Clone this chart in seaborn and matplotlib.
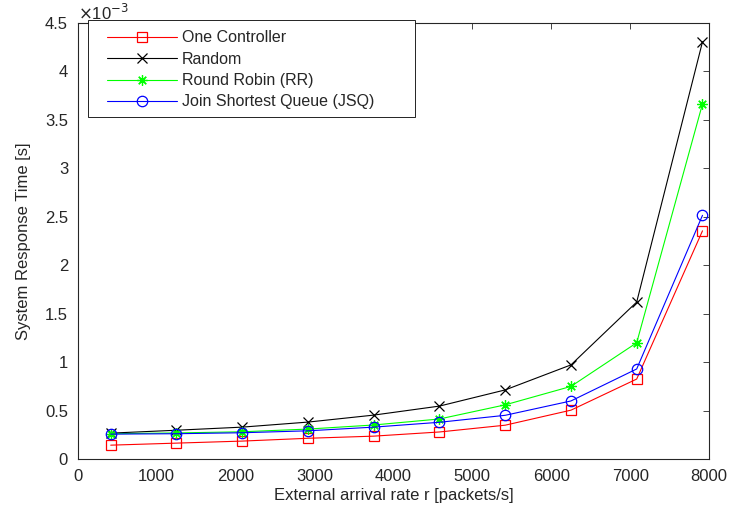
import numpy as np
import pandas as pd
import matplotlib
matplotlib.use("Agg")
import matplotlib.pyplot as plt
import seaborn as sns
from matplotlib.ticker import FuncFormatter
from matplotlib.patches import Rectangle

# ----------------------------------------------------------
# Data
# ----------------------------------------------------------
arrival_rate = [417, 1250, 2083, 2917, 3750, 4583, 5417, 6250, 7083, 7917]

one_controller = [0.144, 0.165, 0.186, 0.215, 0.237, 0.280, 0.350, 0.505, 0.826, 2.355]
random_policy = [0.268, 0.298, 0.330, 0.382, 0.454, 0.547, 0.714, 0.972, 1.620, 4.305]
round_robin = [0.262, 0.270, 0.282, 0.310, 0.352, 0.414, 0.560, 0.750, 1.200, 3.665]
jsq = [0.258, 0.262, 0.272, 0.292, 0.330, 0.380, 0.452, 0.600, 0.930, 2.515]

series_names = ["One Controller", "Random", "Round Robin (RR)", "Join Shortest Queue (JSQ)"]
series_values = [one_controller, random_policy, round_robin, jsq]
series_colors = ["#ff0000", "#000000", "#00ff00", "#0000ff"]
series_markers = ["s", "x", (8, 2, 0), "o"]
series_msize = [6.5, 6.5, 7.5, 7.5]

# ----------------------------------------------------------
# Style (MATLAB-like)
# ----------------------------------------------------------
sns.set_style("white")
plt.rcParams["font.family"] = ["Liberation Sans", "DejaVu Sans"]
plt.rcParams["xtick.direction"] = "in"
plt.rcParams["ytick.direction"] = "in"
plt.rcParams["xtick.top"] = True
plt.rcParams["ytick.right"] = True
plt.rcParams["xtick.major.size"] = 4
plt.rcParams["ytick.major.size"] = 4
plt.rcParams["xtick.major.width"] = 0.6
plt.rcParams["ytick.major.width"] = 0.6

fig = plt.figure(figsize=(7.34, 5.09), dpi=100)
ax = fig.add_axes([0.106, 0.098, 0.860, 0.857])

for name, vals, col, mk, ms in zip(series_names, series_values, series_colors,
                                   series_markers, series_msize):
    df = pd.DataFrame({"rate": arrival_rate, "time": np.array(vals) * 1e-3})
    sns.lineplot(data=df, x="rate", y="time", ax=ax, color=col, marker=mk,
                 markersize=ms, mec=col, mfc="none", mew=0.9, linewidth=0.8,
                 label=name)

ax.set_xlim(0, 8000)
ax.set_ylim(0, 4.5e-3)
ax.set_xticks(np.arange(0, 8001, 1000))
ax.set_yticks(np.arange(0, 4.51e-3, 0.5e-3))
ax.yaxis.set_major_formatter(FuncFormatter(lambda v, p: f"{v * 1e3:g}"))

# exponent label, MATLAB style
ax.text(0.0, 1.0, r"$\times$10$^{-3}$", transform=ax.transAxes,
        ha="left", va="bottom", fontsize=12, color="#262626")

ax.tick_params(labelsize=12, colors="#262626", pad=7)
for sp in ax.spines.values():
    sp.set_color("#262626")
    sp.set_linewidth(0.8)

ax.set_xlabel("External arrival rate r [packets/s]", fontsize=12, color="#262626",
              labelpad=3)
ax.set_ylabel("System Response Time [s]", fontsize=12, color="#262626",
              labelpad=10)

# legend box drawn separately so it keeps the wide MATLAB padding
box = Rectangle((0.016, 0.784), 0.518, 0.223, transform=ax.transAxes,
                facecolor="white", edgecolor="black", linewidth=0.6,
                clip_on=False, zorder=4)
ax.add_patch(box)
leg = ax.legend(loc="upper left", bbox_to_anchor=(0.046, 0.983), fontsize=11.5,
                frameon=False, handlelength=4.4, handletextpad=0.3,
                labelspacing=0.4, borderpad=0, borderaxespad=0)
leg.set_zorder(6)

fig.savefig("out.png", dpi=100)
